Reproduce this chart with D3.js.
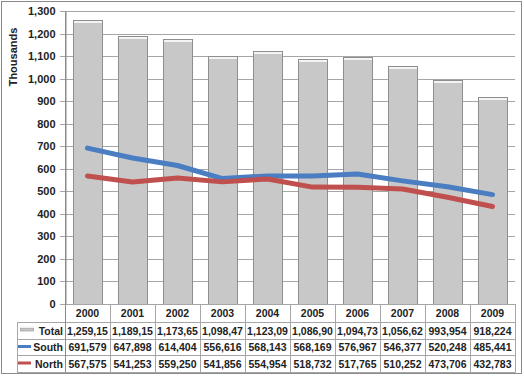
<!DOCTYPE html>
<html>
<head>
<meta charset="utf-8">
<script src="https://cdn.jsdelivr.net/npm/d3@7"></script>
<style>
  html, body { margin: 0; padding: 0; background: #fff; }
  svg { display: block; font-family: "Liberation Sans", Arial, sans-serif; }
</style>
</head>
<body>
<svg id="chart" width="524" height="376"></svg>
<script>
// chart data
const years = ["2000", "2001", "2002", "2003", "2004", "2005", "2006", "2007", "2008", "2009"];
const total = [1259154, 1189151, 1173654, 1098472, 1123097, 1086901, 1094732, 1056629, 993954, 918224];
const south = [691579, 647898, 614404, 556616, 568143, 568169, 576967, 546377, 520248, 485441];
const north = [567575, 541253, 559250, 541856, 554954, 518732, 517765, 510252, 473706, 432783];
const yTicks = [0, 100000, 200000, 300000, 400000, 500000, 600000, 700000, 800000, 900000, 1000000, 1100000, 1200000, 1300000];

const rows = [
  { name: "Total", values: total, type: "bar" },
  { name: "South", values: south, type: "line", color: "#4a7dc1" },
  { name: "North", values: north, type: "line", color: "#c0504d" }
];

const svg = d3.select("#chart");
const plotLeft = 65, plotRight = 515, plotTop = 11, plotBottom = 304;
const gridColor = "#a6a6a6";
const fs = 10.5;

const x = d3.scaleBand().domain(years).range([plotLeft, plotRight]).paddingInner(0.356).paddingOuter(0.178);
const y = d3.scaleLinear().domain([0, 1300000]).range([plotBottom, plotTop]);
const cx = d => x(d) + x.bandwidth() / 2;

// outer frame
svg.append("rect")
  .attr("x", 1.5).attr("y", 1.5).attr("width", 520).attr("height", 372)
  .attr("fill", "#fff").attr("stroke", "#8a8a8a");

// gridlines
svg.append("g").selectAll("line")
  .data(yTicks)
  .join("line")
    .attr("x1", plotLeft - 5).attr("x2", plotRight)
    .attr("y1", d => Math.round(y(d)) + 0.5).attr("y2", d => Math.round(y(d)) + 0.5)
    .attr("stroke", gridColor);

// y axis
const yAxis = svg.append("g")
  .attr("transform", `translate(${plotLeft + 0.5},0)`)
  .call(d3.axisLeft(y).tickValues(yTicks).tickSize(0).tickPadding(10).tickFormat(d => d3.format(",")(d / 1000)));
yAxis.select(".domain").attr("stroke", "#8c8c8c");
yAxis.selectAll("text")
  .attr("font-family", "Liberation Sans, Arial, sans-serif")
  .attr("font-size", 11).attr("font-weight", "bold").attr("fill", "#222");

svg.append("text")
  .attr("transform", "translate(17,57) rotate(-90)")
  .attr("text-anchor", "middle")
  .attr("font-size", 11).attr("font-weight", "bold").attr("fill", "#222")
  .text("Thousands");

// total bars
const bars = svg.append("g").selectAll("g")
  .data(years.map((yr, i) => ({ yr, v: total[i] })))
  .join("g");
bars.append("rect")
  .attr("x", d => Math.round(x(d.yr)) + 0.5)
  .attr("y", d => Math.round(y(d.v)) + 0.5)
  .attr("width", Math.round(x.bandwidth()))
  .attr("height", d => plotBottom - Math.round(y(d.v)))
  .attr("fill", "#c8c8c8").attr("stroke", "#8e8e8e");
bars.append("rect")
  .attr("x", d => Math.round(x(d.yr)) + 1)
  .attr("y", d => Math.round(y(d.v)) + 1)
  .attr("width", Math.round(x.bandwidth()) - 1)
  .attr("height", 2)
  .attr("fill", "#f4f4f4");

// south / north lines
const line = d3.line().x((d, i) => cx(years[i])).y(d => y(d));
rows.filter(r => r.type === "line").forEach(r => {
  svg.append("path")
    .datum(r.values)
    .attr("d", line)
    .attr("fill", "none")
    .attr("stroke", r.color)
    .attr("stroke-width", 5)
    .attr("stroke-linecap", "round")
    .attr("stroke-linejoin", "round");
});

// data table
const tLeft = 17, rowTops = [304, 322, 338.5, 355, 372];
const tbl = svg.append("g");
const hline = (yy, x1) => tbl.append("line")
  .attr("x1", x1).attr("x2", plotRight + 0.5)
  .attr("y1", Math.round(yy) + 0.5).attr("y2", Math.round(yy) + 0.5)
  .attr("stroke", gridColor);
hline(rowTops[0], plotLeft);
rowTops.slice(1).forEach(yy => hline(yy, tLeft));

const bounds = years.map(yr => x(yr) - x.step() * x.paddingInner() / 2).concat([plotRight]);
tbl.selectAll("line.v")
  .data(bounds)
  .join("line")
    .attr("x1", d => Math.round(d) + 0.5).attr("x2", d => Math.round(d) + 0.5)
    .attr("y1", (d, i) => i === 0 ? plotTop : plotBottom).attr("y2", 372.5)
    .attr("stroke", (d, i) => i === 0 ? "#8c8c8c" : gridColor);
tbl.append("line")
  .attr("x1", tLeft + 0.5).attr("x2", tLeft + 0.5)
  .attr("y1", 322).attr("y2", 372.5)
  .attr("stroke", gridColor);

// header years
tbl.selectAll("text.yr")
  .data(years)
  .join("text")
    .attr("x", d => cx(d)).attr("y", 317)
    .attr("text-anchor", "middle")
    .attr("font-size", fs).attr("font-weight", "bold").attr("fill", "#222")
    .text(d => d);

rows.forEach((r, ri) => {
  const ty = rowTops[ri + 1] + 12.5;
  // legend key
  if (r.type === "bar") {
    tbl.append("rect").attr("x", 20.5).attr("y", ty - 6.5).attr("width", 13).attr("height", 3)
      .attr("fill", "#c8c8c8").attr("stroke", "#8e8e8e").attr("stroke-width", 0.6);
    tbl.append("rect").attr("x", 21).attr("y", ty - 8).attr("width", 12).attr("height", 1.5)
      .attr("fill", "#f2f2f2");
  } else {
    tbl.append("line").attr("x1", 18).attr("x2", 31)
      .attr("y1", ty - 4.5).attr("y2", ty - 4.5)
      .attr("stroke", r.color).attr("stroke-width", 3);
  }
  tbl.append("text")
    .attr("x", 63).attr("y", ty)
    .attr("text-anchor", "end")
    .attr("font-size", fs).attr("font-weight", "bold").attr("fill", "#222")
    .text(r.name);

  r.values.forEach((v, i) => {
    const t = tbl.append("text")
      .attr("x", cx(years[i])).attr("y", ty)
      .attr("text-anchor", "middle")
      .attr("font-size", fs).attr("font-weight", "bold").attr("fill", "#222");
    // cells too narrow for the number drop trailing characters, as the source table does
    let s = d3.format(",")(v);
    t.text(s);
    while (t.node().getComputedTextLength() > x.step() - 3 && s.length > 1) {
      s = s.slice(0, -1);
      t.text(s);
    }
  });
});
</script>
</body>
</html>
